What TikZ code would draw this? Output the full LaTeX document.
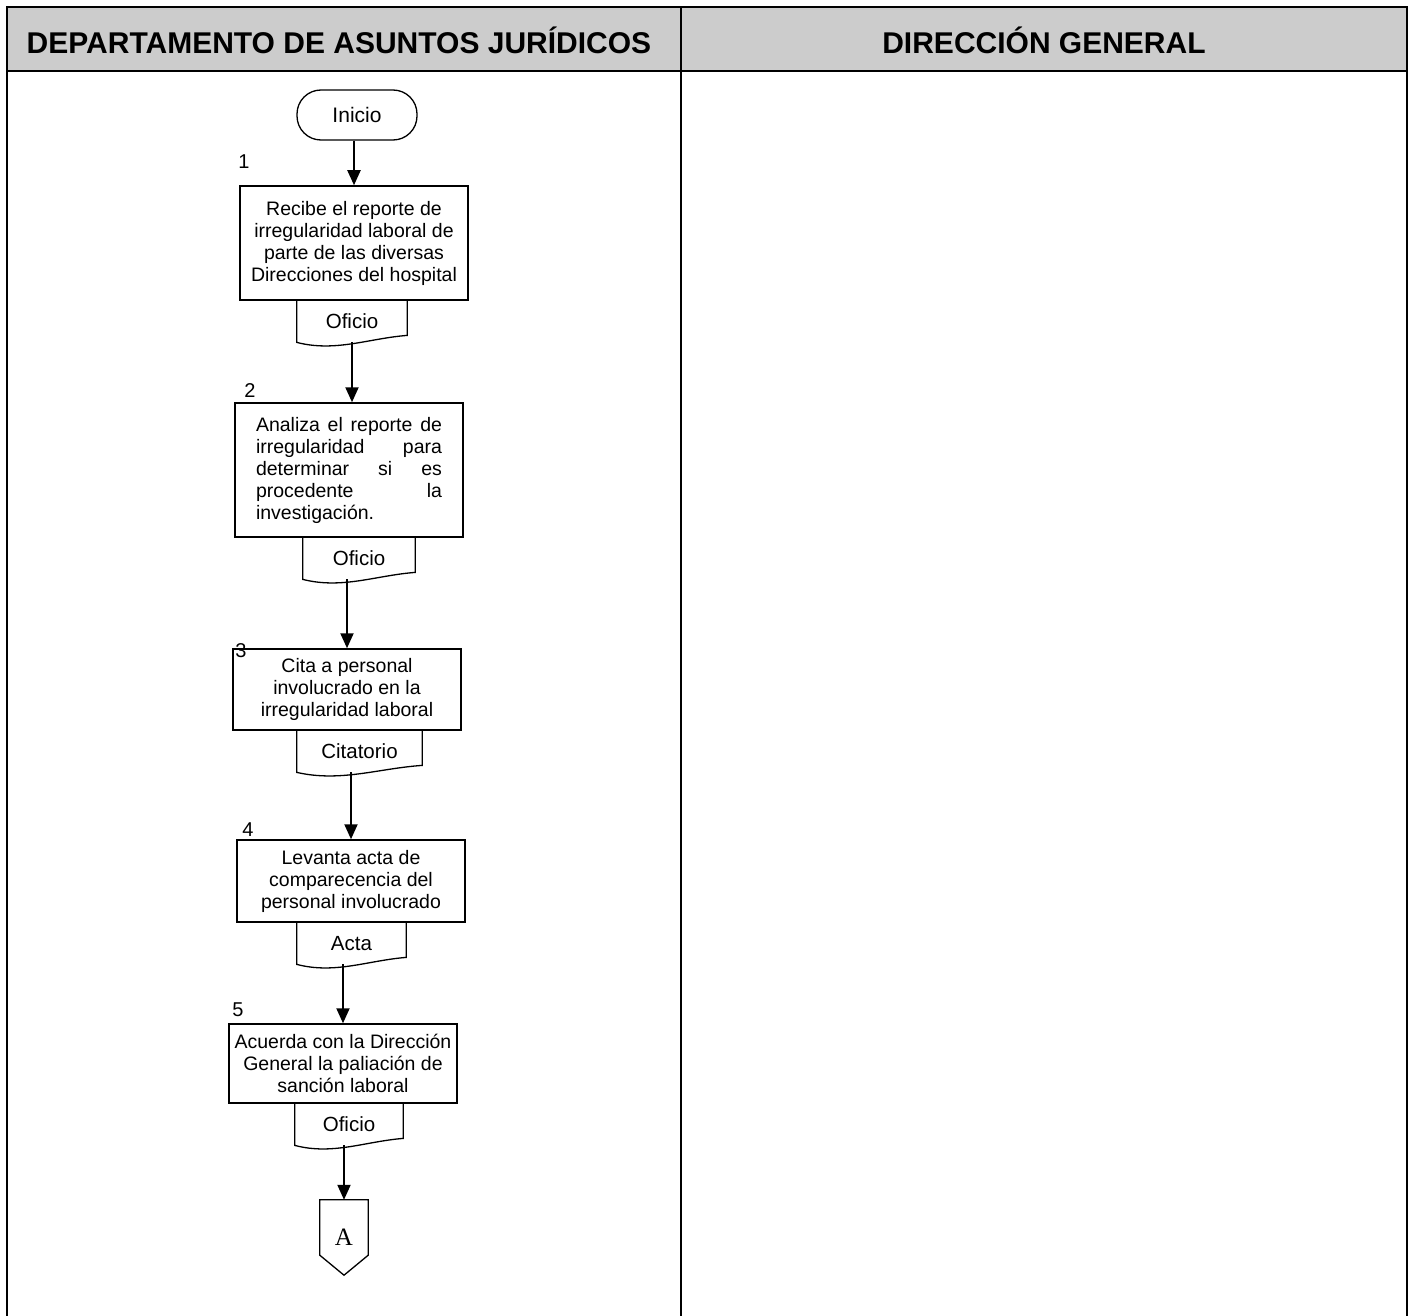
\documentclass[tikz,border=0pt]{standalone}
\usepackage{fontspec}
\setmainfont{Liberation Sans}
\newfontfamily\connfont{Liberation Serif}
\usetikzlibrary{arrows.meta, positioning, calc}
\definecolor{headgray}{HTML}{CCCCCC}

% outline of a document symbol around a named node (open on top)
\newcommand{\docwave}[1]{%
  \draw[docline] (#1.north west) -- (#1.south west)
    .. controls ($(#1.south west)!0.35!(#1.south east)+(0,10)$)
       and ($(#1.south west)!0.65!(#1.south east)+(0,-4)$) .. ($(#1.south east)+(0,-7)$)
    -- (#1.north east);}

\begin{document}
\begin{tikzpicture}[x=1pt, y=-1pt,
  lane/.style={line width=2.5pt},
  headtext/.style={font=\fontsize{30}{34}\selectfont\bfseries},
  terminal/.style={draw, line width=1.3pt, rounded corners=24pt, minimum width=120pt, minimum height=50pt, font=\fontsize{21}{24}\selectfont},
  stepbox/.style={draw, line width=1.5pt, align=center, minimum width=228pt, font=\fontsize{19.5}{22}\selectfont},
  docnode/.style={inner sep=0pt, minimum height=42pt, font=\fontsize{20.5}{23}\selectfont},
  docline/.style={line width=1.3pt},
  stepnum/.style={inner sep=0pt, font=\fontsize{20}{23}\selectfont},
  offpage/.style={inner sep=0pt, minimum width=48pt, minimum height=75pt, font=\connfont\fontsize{25}{28}\selectfont},
  flow/.style={line width=2pt, -{Triangle[width=13pt,length=15pt]}},
]
\useasboundingbox (0,0) rectangle (1413,1316);

% swimlane table
\fill[headgray] (7,7) rectangle (1407,71);
\draw[lane] (7,1316) -- (7,7) -- (1407,7) -- (1407,1316);
\draw[lane] (7,71) -- (1407,71);
\draw[lane] (681,7) -- (681,1316);
\node[headtext] (lanejur) at (339,40) {DEPARTAMENTO DE ASUNTOS JURÍDICOS};
\node[headtext] (lanedir) at (1044,40) {DIRECCIÓN GENERAL};

% flow
\node[terminal] (inicio) at (357,115) {\raisebox{-4pt}{Inicio}};

\node[stepbox, minimum height=114pt] (recibe) at (354,243)
  {Recibe el reporte de\\irregularidad laboral de\\parte de las diversas\\Direcciones del hospital};
\node[docnode, minimum width=110pt, anchor=north] (oficio1) at (352,300) {Oficio};

\node[stepbox, minimum height=134pt] (analiza) at (349,470)
  {\parbox{186pt}{\makebox[\linewidth][s]{Analiza el reporte de}\\
   \makebox[\linewidth][s]{irregularidad para}\\
   \makebox[\linewidth][s]{determinar si es}\\
   \makebox[\linewidth][s]{procedente la}\\
   investigación.}};
\node[docnode, minimum width=112pt, anchor=north] (oficio2) at (359,537) {Oficio};

\node[stepbox, minimum height=81pt] (cita) at (347,689.5)
  {Cita a personal\\involucrado en la\\irregularidad laboral};
\node[docnode, minimum width=125pt, anchor=north] (citatorio) at (359.5,730) {Citatorio};

\node[stepbox, minimum height=82pt] (levanta) at (351,881)
  {Levanta acta de\\comparecencia del\\personal involucrado};
\node[docnode, minimum width=109pt, anchor=north] (acta) at (351.5,922) {Acta};

\node[stepbox, minimum height=79pt] (acuerda) at (343,1063.5)
  {Acuerda con la Dirección\\General la paliación de\\sanción laboral};
\node[docnode, minimum width=108pt, anchor=north] (oficio5) at (349,1103) {Oficio};

\node[offpage] (conA) at (344,1237.5) {A};
\draw[line width=1.3pt] (conA.north west) -- (conA.north east) -- ($(conA.south east)+(0,-20)$)
  -- (conA.south) -- ($(conA.south west)+(0,-20)$) -- cycle;

% step numbers
\node[stepnum] (n1) at (244,162) {1};
\node[stepnum] (n2) at (250,391) {2};
\node[stepnum] (n3) at (241,651) {3};
\node[stepnum] (n4) at (248,830) {4};
\node[stepnum] (n5) at (238,1010) {5};

% documents
\docwave{oficio1}
\docwave{oficio2}
\docwave{citatorio}
\docwave{acta}
\docwave{oficio5}

% connectors
\draw[flow] (inicio.south -| recibe.north) -- (recibe.north);
\draw[flow] (oficio1.south) -- (oficio1.south |- analiza.north);
\draw[flow] (oficio2.south -| cita.north) -- (cita.north);
\draw[flow] (citatorio.south -| levanta.north) -- (levanta.north);
\draw[flow] (acta.south -| acuerda.north) -- (acuerda.north);
\draw[flow] (oficio5.south -| conA.north) -- (conA.north);
\end{tikzpicture}
\end{document}
